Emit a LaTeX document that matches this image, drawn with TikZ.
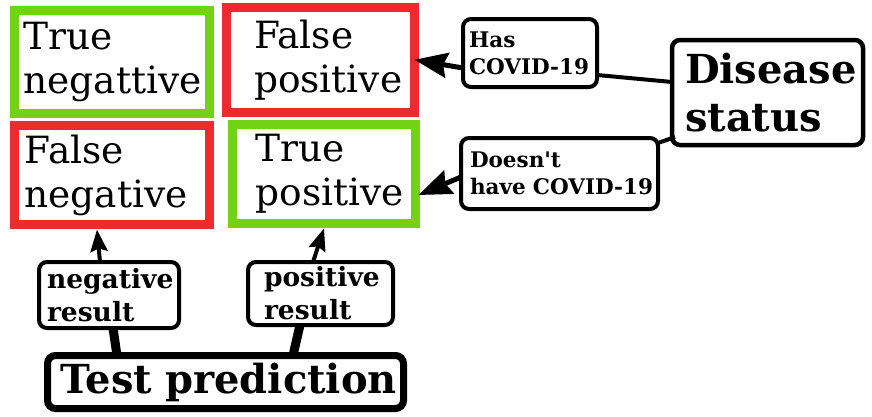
\documentclass[tikz,border=0pt]{standalone}
\usepackage{fontspec}
\setmainfont{DejaVu Serif}
\usetikzlibrary{arrows.meta}
\definecolor{okgreen}{RGB}{114,210,22}
\definecolor{badred}{RGB}{238,42,46}

\begin{document}
\begin{tikzpicture}[x=1pt,y=-1pt,
    pad/.style={execute at begin node={\leftskip=#1}},
    cell/.style={draw=#1,line width=9pt,fill=white,inner sep=0pt,outer sep=0pt,
      align=left,font=\fontsize{37.5}{44}\selectfont},
    tag/.style={draw,line width=4pt,rounded corners=8pt,fill=white,inner sep=0pt,
      outer sep=0pt,align=left,font=\bfseries\fontsize{21.5}{27}\selectfont},
    restag/.style={tag,font=\bfseries\fontsize{26.5}{33}\selectfont},
    head/.style={tag,line width=#1,font=\bfseries\fontsize{40}{48}\selectfont},
    bigarrow/.style={line width=5pt,-{Stealth[length=33pt,width=25pt,inset=4pt]}},
    smallarrow/.style={line width=4pt,-{Stealth[length=22pt,width=17pt,inset=3pt]}}]
  \useasboundingbox (0,0) rectangle (872,416);

  \node[cell=okgreen,text width=194.5pt,minimum height=102.5pt,pad=9pt] (tn) at (111.75,61.75) {True\\negattive};
  \node[cell=badred,text width=188.5pt,minimum height=104.5pt,pad=28pt] (fp) at (320.25,59.75) {False\\positive};
  \node[cell=badred,text width=195pt,minimum height=99pt,pad=10pt] (fn) at (112,175) {False\\negative};
  \node[cell=okgreen,text width=183pt,minimum height=99pt,pad=23pt] (tp) at (324,174) {True\\positive};

  \node[tag,text width=134pt,minimum height=68pt,pad=6pt] (has) at (530,53) {Has\\COVID-19};
  \node[tag,text width=197pt,minimum height=71pt,pad=9pt] (hasnt) at (559.5,173.5) {Doesn\textquotesingle t\\have COVID-19};
  \node[head=4.5pt,text width=191pt,minimum height=105pt,pad=13pt] (status) at (767.5,92.5) {Disease\\status};

  \node[restag,text width=140pt,minimum height=66pt,pad=8pt] (neg) at (109,295) {negative\\result};
  \node[restag,text width=145pt,minimum height=63pt,pad=16pt] (pos) at (320.5,293.5) {positive\\result};
  \node[head=7pt,text width=356pt,minimum height=53pt,pad=13pt] (test) at (225.5,382) {Test prediction};

  \draw[bigarrow] ([yshift=-15pt]has.west) -- (fp.east);
  \draw[line width=4pt] ([yshift=-22pt]has.east) -- ([yshift=10.5pt]status.west);
  \draw[bigarrow] ([yshift=-3.5pt]hasnt.west) -- ([yshift=-21pt,xshift=3pt]tp.east);
  \draw[line width=4pt] ([xshift=3pt,yshift=8pt]status.south west) -- ([yshift=-5pt]hasnt.north east);

  \draw[smallarrow] ([xshift=-9pt]neg.north) -- ([xshift=-15pt,yshift=-5pt]fn.south);
  \draw[smallarrow] ([xshift=-7.5pt]pos.north) -- ([yshift=-5pt]tp.south);
  \draw[line width=9pt] ([xshift=4pt]neg.south) -- ([xshift=-108.5pt]test.north);
  \draw[line width=9pt] ([xshift=-20.5pt]pos.south) -- ([xshift=67.5pt]test.north);
\end{tikzpicture}
\end{document}
